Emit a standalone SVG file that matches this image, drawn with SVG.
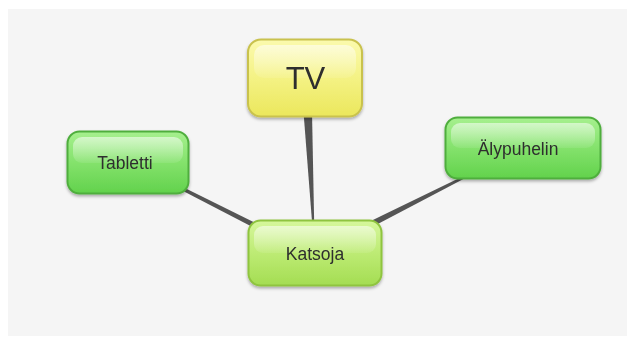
<svg xmlns="http://www.w3.org/2000/svg" width="627" height="345" viewBox="0 0 627 345">
  <style>
    .label { font-family: "Liberation Sans", Arial, sans-serif; fill: #2e2e2e; text-anchor: middle; }
    .small { font-size: 17.5px; }
    .big { font-size: 31px; }
    .link { fill: #555555; }
    .gloss { fill: url(#gloss); }
  </style>
  <defs>
    <linearGradient id="green" x1="0" y1="0" x2="0" y2="1">
      <stop offset="0" stop-color="#a6f08e"/>
      <stop offset="0.5" stop-color="#84e26c"/>
      <stop offset="1" stop-color="#62d24c"/>
    </linearGradient>
    <linearGradient id="lime" x1="0" y1="0" x2="0" y2="1">
      <stop offset="0" stop-color="#d6f79c"/>
      <stop offset="0.5" stop-color="#bdeb74"/>
      <stop offset="1" stop-color="#a4dd52"/>
    </linearGradient>
    <linearGradient id="yellow" x1="0" y1="0" x2="0" y2="1">
      <stop offset="0" stop-color="#fbfaae"/>
      <stop offset="0.5" stop-color="#f4f284"/>
      <stop offset="1" stop-color="#ebe75c"/>
    </linearGradient>
    <linearGradient id="gloss" x1="0" y1="0" x2="0" y2="1">
      <stop offset="0" stop-color="#ffffff" stop-opacity="0.55"/>
      <stop offset="1" stop-color="#ffffff" stop-opacity="0.08"/>
    </linearGradient>
    <filter id="shadow" x="-10%" y="-10%" width="120%" height="130%">
      <feDropShadow dx="0" dy="2" stdDeviation="1.6" flood-color="#000000" flood-opacity="0.3"/>
    </filter>
  </defs>

  <!-- canvas -->
  <rect x="0" y="0" width="627" height="345" fill="#ffffff"/>
  <rect x="8" y="9" width="619" height="327" fill="#f5f5f5"/>

  <!-- tapered links -->
  <g id="connectors">
    <polygon class="link" points="303.5,112 312,112 314.2,224 312.2,224"/>
    <polygon class="link" points="180.2,189.6 181.8,186.4 257.1,223.8 254.9,228.2"/>
    <polygon class="link" points="466.3,177.6 465.1,175.3 370.8,220.9 373.5,226.2"/>
  </g>

  <g id="node-tv" filter="url(#shadow)">
    <rect x="248" y="39.5" width="114" height="77" rx="13" fill="url(#yellow)" stroke="#c9c24e" stroke-width="2"/>
    <rect x="254" y="45" width="102" height="33" rx="10" class="gloss"/>
    <text class="label big" x="305.5" y="88.5">TV</text>
  </g>

  <g id="node-tabletti" filter="url(#shadow)">
    <rect x="67.5" y="131.5" width="121" height="62" rx="12" fill="url(#green)" stroke="#4fae3e" stroke-width="2"/>
    <rect x="73" y="137" width="110" height="26" rx="9" class="gloss"/>
    <text class="label small" x="125" y="169">Tabletti</text>
  </g>

  <g id="node-katsoja" filter="url(#shadow)">
    <rect x="248.5" y="220.5" width="133" height="65" rx="12" fill="url(#lime)" stroke="#8fc43f" stroke-width="2"/>
    <rect x="254" y="226" width="122" height="27" rx="9" class="gloss"/>
    <text class="label small" x="315" y="260">Katsoja</text>
  </g>

  <g id="node-alypuhelin" filter="url(#shadow)">
    <rect x="445.5" y="117.5" width="155" height="61" rx="12" fill="url(#green)" stroke="#4fae3e" stroke-width="2"/>
    <rect x="451" y="123" width="144" height="25" rx="9" class="gloss"/>
    <text class="label small" x="518" y="155">Älypuhelin</text>
  </g>
</svg>
